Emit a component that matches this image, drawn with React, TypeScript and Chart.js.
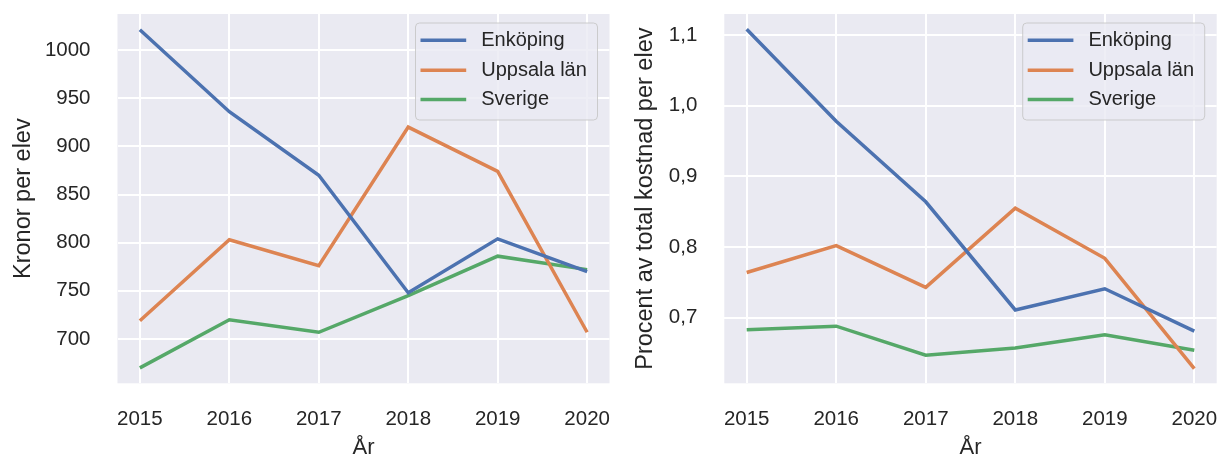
import React, { useEffect, useRef } from "react";
import { Chart, registerables } from "chart.js";

Chart.register(...registerables);

const years = [2015, 2016, 2017, 2018, 2019, 2020];
const seriesNames = ["Enköping", "Uppsala län", "Sverige"];
const seriesColors = ["#4C72B0", "#DD8452", "#55A868"];

const kronorEnkoping = [1021, 936, 870, 748, 804, 770];
const kronorUppsala = [719, 803, 776, 920, 874, 707];
const kronorSverige = [670, 720, 707, 745, 786, 772];

const procentEnkoping = [1.108, 0.978, 0.864, 0.711, 0.741, 0.681];
const procentUppsala = [0.764, 0.802, 0.743, 0.855, 0.784, 0.628];
const procentSverige = [0.683, 0.688, 0.647, 0.657, 0.676, 0.654];

const yTicksLeft = [700, 750, 800, 850, 900, 950, 1000];
const yTicksRight = [0.7, 0.8, 0.9, 1.0, 1.1];

const FONT = "'Liberation Sans', Arial, Helvetica, sans-serif";
const TEXT = "#262626";

const bgPlugin = {
  id: "bgPlugin",
  beforeDraw(chart: any) {
    const { ctx, chartArea } = chart;
    ctx.save();
    ctx.fillStyle = "#EAEAF2";
    ctx.fillRect(chartArea.left, chartArea.top, chartArea.right - chartArea.left, chartArea.bottom - chartArea.top);
    ctx.restore();
  },
};

function roundRect(ctx: CanvasRenderingContext2D, x: number, y: number, w: number, h: number, r: number) {
  ctx.beginPath();
  ctx.moveTo(x + r, y);
  ctx.lineTo(x + w - r, y);
  ctx.arcTo(x + w, y, x + w, y + r, r);
  ctx.lineTo(x + w, y + h - r);
  ctx.arcTo(x + w, y + h, x + w - r, y + h, r);
  ctx.lineTo(x + r, y + h);
  ctx.arcTo(x, y + h, x, y + h - r, r);
  ctx.lineTo(x, y + r);
  ctx.arcTo(x, y, x + r, y, r);
  ctx.closePath();
}

const legendPlugin = {
  id: "boxLegend",
  afterDatasetsDraw(chart: any) {
    const { ctx, chartArea } = chart;
    const w = 182;
    const h = 97;
    const left = chartArea.right - 12 - w;
    const top = chartArea.top + 9;
    ctx.save();
    roundRect(ctx, left, top, w, h, 4);
    ctx.fillStyle = "rgba(234,234,242,0.8)";
    ctx.fill();
    ctx.lineWidth = 1;
    ctx.strokeStyle = "rgba(200,200,200,0.9)";
    ctx.stroke();
    const rows = [17.3, 47.3, 76.6];
    chart.data.datasets.forEach((ds: any, i: number) => {
      const y = top + rows[i];
      ctx.beginPath();
      ctx.moveTo(left + 5, y);
      ctx.lineTo(left + 50.7, y);
      ctx.lineWidth = 3.5;
      ctx.strokeStyle = ds.borderColor;
      ctx.stroke();
      ctx.fillStyle = TEXT;
      ctx.font = `20px ${FONT}`;
      ctx.textBaseline = "middle";
      ctx.textAlign = "left";
      ctx.fillText(ds.label, left + 65.7, y);
    });
    ctx.restore();
  },
};

function zeroPad(scale: any) {
  scale.paddingLeft = 0;
  scale.paddingRight = 0;
  scale.paddingTop = 0;
  scale.paddingBottom = 0;
}

function makeConfig(
  series: number[][],
  yMin: number,
  yMax: number,
  yTicks: number[],
  yTitle: string,
  yFmt: (v: number) => string,
  yWidth: number,
  rightPad: number,
  titlePad: number
): any {
  return {
    type: "line",
    data: {
      datasets: series.map((vals, i) => ({
        label: seriesNames[i],
        data: years.map((yr, j) => ({ x: yr, y: vals[j] })),
        borderColor: seriesColors[i],
        backgroundColor: seriesColors[i],
        borderWidth: 3.5,
        pointRadius: 0,
        tension: 0,
        fill: false,
      })),
    },
    options: {
      animation: false,
      responsive: false,
      devicePixelRatio: 1,
      layout: { padding: { left: 0, right: rightPad, top: 14, bottom: 0 } },
      plugins: { legend: { display: false }, tooltip: { enabled: false } },
      scales: {
        x: {
          type: "linear",
          min: 2014.75,
          max: 2020.25,
          afterBuildTicks: (scale: any) => {
            scale.ticks = years.map((v) => ({ value: v }));
          },
          afterFit: (scale: any) => {
            scale.height = 77.7;
            zeroPad(scale);
          },
          grid: { color: "#FFFFFF", lineWidth: 2, drawTicks: false },
          border: { display: false },
          ticks: {
            color: TEXT,
            font: { family: FONT, size: 20.5 },
            padding: 24,
            maxRotation: 0,
            autoSkip: false,
            callback: (v: any) => String(v),
          },
          title: {
            display: true,
            text: "År",
            color: TEXT,
            font: { family: FONT, size: 22 },
            padding: { top: 0, bottom: 0 },
          },
        },
        y: {
          type: "linear",
          min: yMin,
          max: yMax,
          afterBuildTicks: (scale: any) => {
            scale.ticks = yTicks.map((v) => ({ value: v }));
          },
          afterFit: (scale: any) => {
            scale.width = yWidth;
            zeroPad(scale);
          },
          grid: { color: "#FFFFFF", lineWidth: 2, drawTicks: false },
          border: { display: false },
          ticks: {
            color: TEXT,
            font: { family: FONT, size: 20.5 },
            padding: 27,
            callback: (v: any) => yFmt(Number(v)),
          },
          title: {
            display: true,
            text: yTitle,
            color: TEXT,
            font: { family: FONT, size: 23.5 },
            padding: { top: titlePad, bottom: 0 },
          },
        },
      },
    },
    plugins: [bgPlugin, legendPlugin],
  };
}

export default function App() {
  const leftRef = useRef<HTMLCanvasElement | null>(null);
  const rightRef = useRef<HTMLCanvasElement | null>(null);

  useEffect(() => {
    const c1 = new Chart(
      leftRef.current as HTMLCanvasElement,
      makeConfig(
        [kronorEnkoping, kronorUppsala, kronorSverige],
        654.0,
        1037.4,
        yTicksLeft,
        "Kronor per elev",
        (v) => String(Math.round(v)),
        117.5,
        2.5,
        9
      )
    );
    const c2 = new Chart(
      rightRef.current as HTMLCanvasElement,
      makeConfig(
        [procentEnkoping, procentUppsala, procentSverige],
        0.6072,
        1.1297,
        yTicksRight,
        "Procent av total kostnad per elev",
        (v) => v.toFixed(1).replace(".", ","),
        112.3,
        1.3,
        19
      )
    );
    return () => {
      c1.destroy();
      c2.destroy();
    };
  }, []);

  return (
    <div style={{ position: "fixed", left: 0, top: 0, width: 1218, height: 461, background: "#FFFFFF" }}>
      <canvas
        ref={leftRef}
        width={612}
        height={461}
        style={{ position: "absolute", left: 0, top: 0, width: 612, height: 461 }}
      />
      <canvas
        ref={rightRef}
        width={606}
        height={461}
        style={{ position: "absolute", left: 612, top: 0, width: 606, height: 461 }}
      />
    </div>
  );
}
